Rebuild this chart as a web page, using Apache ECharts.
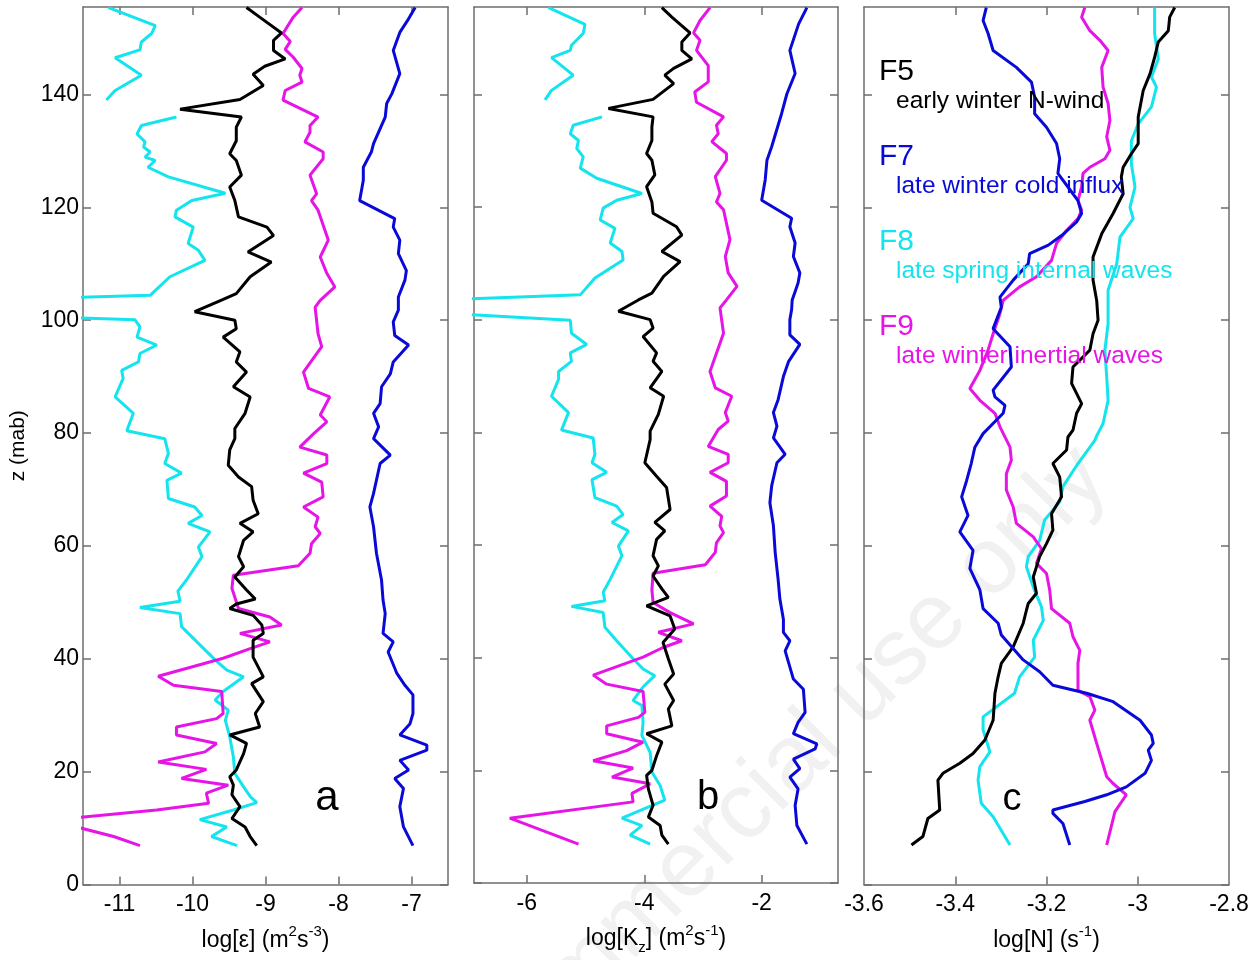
<!DOCTYPE html>
<html><head><meta charset="utf-8">
<script src="https://cdn.jsdelivr.net/npm/echarts@6/dist/echarts.min.js"></script>
<style>html,body{margin:0;padding:0;background:#fff}#c{width:1252px;height:960px}</style>
</head><body><div id="c"></div><script>
// ---------- tick values ----------
const zTicks = [0, 20, 40, 60, 80, 100, 120, 140];
const epsTicks = [-11, -10, -9, -8, -7];
const kzTicks = [-6, -4, -2];
const nTickMarks = [-3.4, -3.2, -3];
const nTickLabels = [-3.6, -3.4, -3.2, -3, -2.8];

// ---------- data: [value, z(mab)] ----------
// panel a : log epsilon
const epsF5 = [[-9.26,155.4],[-9.08,153.7],[-8.78,150.9],[-8.89,149.6],[-8.89,147.8],[-8.73,146.3],[-9.01,145.0],[-9.17,143.6],[-9.03,141.6],[-9.35,139.1],[-10.17,137.4],[-9.33,136.0],[-9.40,134.2],[-9.40,131.8],[-9.49,129.5],[-9.40,128.3],[-9.33,125.7],[-9.49,123.6],[-9.42,121.2],[-9.37,118.3],[-8.98,116.5],[-8.89,115.0],[-9.24,112.1],[-8.92,110.3],[-9.21,107.7],[-9.40,104.7],[-9.65,103.3],[-9.97,101.5],[-9.42,100.0],[-9.40,98.5],[-9.58,97.0],[-9.35,94.4],[-9.40,92.6],[-9.26,90.8],[-9.44,88.2],[-9.21,86.4],[-9.28,83.5],[-9.42,80.8],[-9.42,79.0],[-9.49,77.0],[-9.51,74.3],[-9.37,72.2],[-9.19,70.5],[-9.17,68.1],[-9.10,65.7],[-9.35,64.0],[-9.17,62.5],[-9.30,61.0],[-9.37,58.1],[-9.30,56.3],[-9.42,54.5],[-9.26,52.2],[-9.14,50.6],[-9.40,49.7],[-9.49,48.9],[-9.17,47.7],[-9.05,46.0],[-9.03,44.5],[-9.17,43.3],[-9.17,40.3],[-9.03,36.8],[-9.19,35.6],[-9.03,32.4],[-9.14,30.3],[-9.08,27.9],[-9.49,26.5],[-9.26,25.0],[-9.30,23.2],[-9.40,20.3],[-9.49,19.1],[-9.44,17.6],[-9.46,15.9],[-9.35,13.8],[-9.46,11.7],[-9.28,10.2],[-9.21,8.5],[-9.12,6.9]];
const epsF7 = [[-6.95,155.4],[-7.04,153.4],[-7.16,151.0],[-7.25,147.8],[-7.16,143.7],[-7.27,140.1],[-7.34,138.4],[-7.36,136.0],[-7.52,131.3],[-7.55,129.8],[-7.66,127.1],[-7.66,124.8],[-7.71,121.2],[-7.23,118.0],[-7.25,116.5],[-7.16,114.2],[-7.18,111.8],[-7.07,108.8],[-7.09,107.1],[-7.18,104.1],[-7.18,101.8],[-7.25,99.7],[-7.23,97.3],[-7.04,95.6],[-7.25,92.6],[-7.29,90.5],[-7.41,88.2],[-7.43,85.2],[-7.52,83.5],[-7.45,81.1],[-7.52,79.0],[-7.29,76.1],[-7.43,74.6],[-7.52,69.3],[-7.57,66.9],[-7.52,63.4],[-7.48,58.7],[-7.41,53.9],[-7.39,50.4],[-7.36,48.0],[-7.39,44.5],[-7.25,43.0],[-7.32,41.2],[-7.20,37.4],[-7.09,35.3],[-6.98,33.6],[-6.98,30.3],[-7.02,28.5],[-7.16,26.5],[-6.79,24.7],[-6.79,23.8],[-7.16,22.0],[-7.04,20.3],[-7.23,18.8],[-7.11,17.0],[-7.16,13.8],[-7.11,10.2],[-6.98,6.9]];
const epsF8 = [[-11.15,155.4],[-10.51,152.2],[-10.56,150.8],[-10.70,149.3],[-10.72,147.9],[-11.06,146.5],[-10.70,143.4],[-11.06,140.7],[-11.18,139.0],['-','-'],[-10.22,136.0],[-10.70,134.5],[-10.76,133.0],[-10.65,131.6],[-10.67,130.7],[-10.58,129.8],[-10.65,128.9],[-10.51,128.3],[-10.61,127.1],[-10.33,125.4],[-9.55,122.5],[-10.01,121.2],[-10.22,119.5],[-10.24,118.3],[-9.99,116.5],[-10.06,113.6],[-9.92,112.4],[-9.83,110.6],[-10.31,107.7],[-10.58,104.4],[-13,103.5],[-13,101.0],[-10.79,100.1],[-10.72,98.8],[-10.76,97.0],[-10.49,95.6],[-10.72,94.1],[-10.74,92.6],[-10.97,91.1],[-10.95,89.7],[-11.06,86.4],[-10.81,83.5],[-10.90,80.4],[-10.38,79.0],[-10.33,76.4],[-10.38,74.6],[-10.15,72.9],[-10.35,71.6],[-10.33,68.4],[-9.97,66.9],[-9.87,65.4],[-10.06,64.0],[-9.76,62.5],[-9.92,59.8],[-9.87,58.1],[-10.08,54.0],[-10.20,52.0],[-10.17,50.2],[-10.72,49.1],[-10.17,48.0],[-10.15,45.7],[-9.94,43.0],[-9.69,39.8],[-9.53,38.0],[-9.30,36.8],[-9.58,34.2],[-9.69,32.7],[-9.51,30.9],[-9.55,29.1],[-9.49,26.2],[-9.44,22.6],[-9.42,19.7],[-9.30,17.3],[-9.21,15.6],[-9.12,14.5],[-9.44,13.2],[-9.90,11.5],[-9.53,10.2],[-9.74,8.5],[-9.39,6.9]];
const epsF9 = [[-8.50,155.4],[-8.62,153.7],[-8.76,150.8],[-8.66,149.4],[-8.73,148.0],[-8.62,146.6],[-8.50,144.6],[-8.53,143.4],[-8.50,142.2],[-8.73,140.7],[-8.76,139.0],[-8.28,136.0],[-8.39,134.5],[-8.39,133.3],[-8.46,131.6],[-8.21,129.8],[-8.21,128.6],[-8.39,125.7],[-8.30,122.4],[-8.37,121.2],[-8.28,119.5],[-8.14,114.2],[-8.25,111.2],[-8.16,108.3],[-8.05,105.9],[-8.25,103.5],[-8.32,102.3],[-8.28,97.6],[-8.23,95.3],[-8.48,90.8],[-8.41,87.9],[-8.12,86.4],[-8.25,83.2],[-8.16,82.0],[-8.34,79.9],[-8.53,77.5],[-8.16,76.1],[-8.16,74.6],[-8.48,72.9],[-8.23,71.3],[-8.21,68.7],[-8.48,66.9],[-8.28,65.1],[-8.32,63.4],[-8.25,62.2],[-8.37,60.4],[-8.39,58.7],[-8.55,56.5],[-9.44,54.8],[-9.46,52.5],[-9.37,48.9],[-8.94,47.4],[-8.78,46.0],[-9.35,44.5],[-8.94,43.0],[-9.21,41.8],[-9.58,40.1],[-10.47,36.9],[-10.26,35.3],[-9.60,34.2],[-9.58,30.3],[-9.67,29.4],[-10.22,27.9],[-10.22,26.5],[-9.67,25.0],[-9.83,23.5],[-10.47,21.7],[-9.81,20.4],[-10.15,18.8],[-9.51,17.6],[-9.81,16.2],[-9.78,14.4],[-10.49,13.2],[-11.95,11.4],[-11.08,8.5],[-10.72,6.9]];

// panel b : log Kz
const kzF5 = [[-3.70,155.4],[-3.53,153.7],[-3.22,150.9],[-3.36,149.3],[-3.36,147.8],[-3.19,146.3],[-3.50,144.6],[-3.65,143.4],[-3.50,141.9],[-3.85,139.1],[-4.61,137.5],[-3.85,136.0],[-3.87,134.2],[-3.87,131.8],[-3.96,129.5],[-3.87,128.3],[-3.82,125.7],[-3.96,123.6],[-3.87,120.9],[-3.85,118.9],[-3.45,116.5],[-3.36,115.0],[-3.70,112.1],[-3.39,110.3],[-3.67,107.7],[-3.87,104.7],[-4.10,103.5],[-4.44,101.5],[-3.90,100.0],[-3.85,98.5],[-4.02,97.0],[-3.79,94.1],[-3.85,92.6],[-3.70,90.8],[-3.90,87.9],[-3.67,86.4],[-3.76,83.2],[-3.90,80.2],[-3.90,78.7],[-3.99,74.6],[-3.79,72.2],[-3.62,70.2],[-3.56,66.3],[-3.82,64.0],[-3.65,62.5],[-3.79,61.0],[-3.85,58.1],[-3.76,56.3],[-3.85,54.5],[-3.70,52.2],[-3.59,50.7],[-3.96,49.2],[-3.56,47.4],[-3.48,45.1],[-3.68,42.7],[-3.59,39.8],[-3.50,37.1],[-3.65,35.3],[-3.50,32.4],[-3.59,30.9],[-3.53,27.9],[-3.96,26.5],[-3.70,25.0],[-3.79,22.6],[-3.87,20.0],[-3.96,19.1],[-3.93,16.7],[-3.85,13.8],[-3.93,11.7],[-3.73,10.2],[-3.70,8.5],[-3.59,6.9]];
const kzF7 = [[-1.23,155.4],[-1.37,152.5],[-1.52,147.8],[-1.43,143.7],[-1.57,140.1],[-1.66,136.6],[-1.83,130.7],[-1.91,128.3],[-1.94,124.8],[-2.00,121.2],[-1.49,118.0],[-1.52,116.5],[-1.43,113.6],[-1.46,111.2],[-1.35,108.3],[-1.38,106.5],[-1.48,103.5],[-1.49,101.8],[-1.52,100.0],[-1.52,97.3],[-1.35,95.6],[-1.54,92.6],[-1.63,89.9],[-1.72,85.8],[-1.80,83.5],[-1.74,81.1],[-1.80,79.0],[-1.60,76.1],[-1.74,74.6],[-1.83,70.5],[-1.86,67.5],[-1.80,63.4],[-1.77,58.7],[-1.72,53.9],[-1.69,50.4],[-1.63,46.8],[-1.63,44.5],[-1.52,43.0],[-1.60,41.2],[-1.46,36.2],[-1.29,34.4],[-1.26,30.3],[-1.38,28.5],[-1.46,26.5],[-1.06,24.7],[-1.09,23.8],[-1.46,22.0],[-1.35,20.3],[-1.52,18.8],[-1.38,16.7],[-1.43,13.8],[-1.40,10.2],[-1.23,6.9]];
const kzF8 = [[-5.63,155.4],[-5.01,152.4],[-5.04,150.8],[-5.24,148.7],[-5.26,147.8],[-5.58,146.5],[-5.21,143.4],[-5.58,140.7],[-5.69,139.0],['-','-'],[-4.72,136.0],[-5.21,134.5],[-5.26,133.0],[-5.12,131.8],[-5.15,130.4],[-5.04,128.9],[-5.09,126.9],[-4.81,125.1],[-4.04,122.4],[-4.47,121.2],[-4.70,119.8],[-4.75,117.7],[-4.50,116.2],[-4.58,113.6],[-4.38,112.1],[-4.36,110.6],[-4.84,107.4],[-5.09,104.4],[-8,103.3],[-8,101.5],[-5.26,99.9],[-5.24,97.6],[-4.98,95.6],[-5.26,94.1],[-5.24,92.6],[-5.46,90.8],[-5.46,89.4],[-5.58,86.4],[-5.29,83.5],[-5.41,80.4],[-4.87,79.0],[-4.84,76.1],[-4.89,74.6],[-4.64,72.9],[-4.89,71.6],[-4.84,68.4],[-4.47,66.9],[-4.36,65.4],[-4.55,64.0],[-4.27,62.5],[-4.44,59.8],[-4.38,58.1],[-4.58,53.9],[-4.70,51.6],[-4.67,50.1],[-5.24,49.1],[-4.70,48.0],[-4.67,45.4],[-4.47,43.0],[-4.19,39.8],[-4.02,38.0],[-3.82,36.8],[-4.02,34.8],[-4.19,32.4],[-4.04,31.5],[-4.02,28.5],[-4.04,26.2],[-3.90,23.2],[-3.87,19.7],[-3.73,17.3],[-3.65,14.7],[-4.38,11.5],[-4.04,10.2],[-4.24,8.5],[-3.90,6.9]];
const kzF9 = [[-2.88,155.4],[-3.05,153.1],[-3.16,150.9],[-3.05,149.6],[-3.11,147.8],[-2.91,145.1],[-2.91,142.2],[-3.14,140.4],[-3.11,138.6],[-2.65,136.0],[-2.77,134.5],[-2.74,133.0],[-2.85,131.6],[-2.60,129.5],[-2.60,128.3],[-2.79,125.4],[-2.71,122.4],[-2.77,120.9],[-2.65,119.5],[-2.54,114.2],[-2.62,111.2],[-2.57,108.3],[-2.42,105.9],[-2.60,103.5],[-2.71,102.1],[-2.65,97.6],[-2.88,90.8],[-2.79,87.9],[-2.51,86.4],[-2.62,83.5],[-2.57,82.0],[-2.74,80.5],[-2.91,77.5],[-2.57,76.1],[-2.57,74.6],[-2.88,72.9],[-2.60,71.3],[-2.60,68.7],[-2.88,66.9],[-2.68,65.1],[-2.71,63.4],[-2.65,62.2],[-2.77,60.4],[-2.79,58.7],[-2.96,56.5],[-3.85,55.0],[-3.87,52.0],[-3.85,49.8],[-3.56,48.0],[-3.16,46.0],[-3.76,44.5],[-3.36,43.0],[-3.68,41.8],[-4.02,40.1],[-4.87,36.9],[-4.64,35.3],[-4.02,34.0],[-3.99,30.3],[-4.10,29.4],[-4.64,27.9],[-4.64,26.5],[-4.02,25.0],[-4.30,23.5],[-4.87,21.7],[-4.19,20.4],[-4.55,18.8],[-3.90,17.6],[-4.21,15.9],[-4.19,14.4],[-6.29,11.5],[-5.12,6.9]];

// panel c : log N
const nF5 = [[-2.919,155.4],[-2.930,153.7],[-2.933,151.3],[-2.955,149.3],[-2.963,146.6],[-2.973,143.7],[-2.988,140.7],[-2.999,136.0],[-2.999,131.3],[-3.014,129.5],[-3.032,127.1],[-3.036,125.4],[-3.032,122.4],[-3.054,118.9],[-3.079,115.3],[-3.098,111.2],[-3.098,107.1],[-3.090,103.5],[-3.087,100.0],[-3.098,97.6],[-3.105,94.7],[-3.142,91.7],[-3.145,88.8],[-3.123,85.2],[-3.134,83.5],[-3.142,80.5],[-3.153,79.3],[-3.156,77.0],[-3.186,74.6],[-3.171,72.2],[-3.167,68.7],[-3.189,65.7],[-3.186,62.8],[-3.200,60.4],[-3.215,58.1],[-3.229,54.5],[-3.222,51.6],[-3.240,49.8],[-3.244,48.6],[-3.251,46.3],[-3.273,42.1],[-3.299,39.2],[-3.306,36.8],[-3.313,33.9],[-3.317,29.1],[-3.335,25.6],[-3.361,23.2],[-3.390,21.5],[-3.427,19.7],[-3.438,18.5],[-3.434,13.2],[-3.460,11.7],[-3.471,8.5],[-3.496,7.0]];
const nF7 = [[-3.332,155.4],[-3.339,153.1],[-3.328,150.8],[-3.317,147.8],[-3.266,144.8],[-3.233,142.2],[-3.226,139.5],[-3.226,136.6],[-3.200,134.2],[-3.178,131.3],[-3.171,128.6],[-3.175,126.0],[-3.153,123.6],[-3.131,121.2],[-3.123,118.9],[-3.134,117.4],[-3.167,115.0],[-3.196,113.3],[-3.237,111.8],[-3.240,110.0],[-3.273,107.1],[-3.302,104.1],[-3.299,102.3],[-3.317,98.5],[-3.280,95.3],[-3.277,91.7],[-3.317,87.6],[-3.313,86.4],[-3.291,84.9],[-3.295,83.5],[-3.339,79.9],[-3.357,77.5],[-3.365,74.6],[-3.375,71.6],[-3.386,68.7],[-3.372,65.4],[-3.390,62.5],[-3.361,59.2],[-3.368,56.0],[-3.346,52.2],[-3.339,48.9],[-3.306,46.3],[-3.299,44.2],[-3.251,39.8],[-3.215,37.7],[-3.186,35.3],[-3.112,33.9],[-3.054,32.4],[-2.995,29.1],[-2.970,26.5],[-2.966,25.0],[-2.977,23.8],[-2.970,22.0],[-2.984,19.7],[-3.025,17.3],[-3.068,15.9],[-3.116,14.7],[-3.186,13.2],[-3.186,12.6],[-3.164,10.8],[-3.149,7.0]];
const nF8 = [[-2.963,155.4],[-2.963,150.8],[-2.955,146.3],[-2.970,143.1],[-2.959,141.3],[-2.970,137.8],[-2.999,134.8],[-3.014,131.8],[-3.014,127.7],[-3.006,123.6],[-3.017,120.0],[-3.010,118.0],[-3.039,114.7],[-3.046,110.0],[-3.065,105.3],[-3.065,99.4],[-3.072,94.7],[-3.068,89.9],[-3.065,85.8],[-3.076,81.7],[-3.090,79.5],[-3.094,78.7],[-3.131,74.6],[-3.164,70.5],[-3.171,67.8],[-3.204,64.6],[-3.215,61.0],[-3.240,58.1],[-3.244,56.3],[-3.229,52.7],[-3.211,49.2],[-3.207,46.8],[-3.229,43.3],[-3.226,40.3],[-3.259,36.8],[-3.270,33.9],[-3.339,29.7],[-3.339,27.4],[-3.324,23.5],[-3.346,20.9],[-3.350,18.5],[-3.343,14.4],[-3.317,12.0],[-3.280,7.0]];
const nF9 = [[-3.116,155.4],[-3.123,153.7],[-3.105,151.3],[-3.083,149.6],[-3.065,147.8],[-3.079,144.8],[-3.076,141.3],[-3.065,138.4],[-3.061,135.4],[-3.068,132.5],[-3.061,130.1],[-3.072,128.6],[-3.105,127.1],[-3.120,126.0],[-3.123,123.6],[-3.131,121.2],[-3.123,119.5],[-3.131,118.0],[-3.156,115.9],[-3.178,113.6],[-3.189,110.6],[-3.222,107.7],[-3.259,105.9],[-3.295,103.5],[-3.302,101.2],[-3.317,97.6],[-3.328,94.7],[-3.346,91.1],[-3.368,87.9],[-3.346,85.8],[-3.313,83.5],[-3.302,81.1],[-3.280,77.5],[-3.277,75.2],[-3.288,72.8],[-3.288,69.9],[-3.273,66.9],[-3.266,64.0],[-3.229,61.6],[-3.211,59.5],[-3.222,56.9],[-3.200,55.1],[-3.193,52.2],[-3.189,48.9],[-3.149,46.3],[-3.142,43.9],[-3.127,41.5],[-3.131,39.2],[-3.131,34.4],[-3.105,33.3],[-3.094,30.9],[-3.105,29.1],[-3.090,25.0],[-3.068,19.1],[-3.054,17.9],[-3.025,15.9],[-3.050,12.9],[-3.068,7.0]];

const legendItems = [
  {id: 'F5', desc: 'early winter N-wind'},
  {id: 'F7', desc: 'late winter cold influx'},
  {id: 'F8', desc: 'late spring internal waves'},
  {id: 'F9', desc: 'late winter inertial waves'}
];
const panelLetters = ['a', 'b', 'c'];

// ---------- styling ----------
const FONT = "'Liberation Sans', Arial, Helvetica, sans-serif";
const NARROW = "'Liberation Sans Narrow', 'Arial Narrow', 'Liberation Sans', sans-serif";
const AX = '#6e6e6e';
const COL = {F5: '#000000', F7: '#0a0ad8', F8: '#14e4ee', F9: '#e614e6'};
const Z_MAX = 155.5;
const TICK_FS = 23;

const grids = [
  {left: 83, top: 7, width: 365, height: 877.5},
  {left: 474, top: 7, width: 364, height: 877.5},
  {left: 864, top: 7, width: 365, height: 877.5}
];

const supRich = {
  n: {fontSize: 23, fontFamily: FONT, color: '#000', lineHeight: 32},
  s: {fontSize: 15, fontFamily: FONT, color: '#000', lineHeight: 15, verticalAlign: 'top'},
  b: {fontSize: 15, fontFamily: FONT, color: '#000', lineHeight: 15, verticalAlign: 'bottom'}
};

function xPair(gi, min, max, tickVals, labelVals, name) {
  const base = {
    type: 'value', gridIndex: gi, min: min, max: max,
    splitLine: {show: false},
    axisLine: {show: true, onZero: false, lineStyle: {color: AX, width: 1.5}},
    axisTick: {show: true, inside: true, length: 8, customValues: tickVals, lineStyle: {color: AX, width: 1.5}}
  };
  const bottom = Object.assign({}, base, {
    position: 'bottom',
    axisLabel: {show: true, customValues: labelVals, margin: 9, fontSize: TICK_FS, color: '#000', fontFamily: FONT},
    name: name, nameLocation: 'middle', nameGap: 40,
    nameTextStyle: {fontSize: 23, fontFamily: FONT, color: '#000', rich: supRich}
  });
  const top = Object.assign({}, base, {position: 'top', axisLabel: {show: false}});
  return [bottom, top];
}
function yPair(gi, withLabels) {
  const base = {
    type: 'value', gridIndex: gi, min: 0, max: Z_MAX,
    splitLine: {show: false},
    axisLine: {show: true, onZero: false, lineStyle: {color: AX, width: 1.5}},
    axisTick: {show: true, inside: true, length: 8, customValues: zTicks, lineStyle: {color: AX, width: 1.5}}
  };
  const left = Object.assign({}, base, {
    position: 'left',
    axisLabel: withLabels ? {show: true, customValues: zTicks, margin: 4, fontSize: TICK_FS, color: '#000', fontFamily: FONT} : {show: false}
  });
  if (withLabels) {
    left.name = 'z (mab)';
    left.nameLocation = 'middle';
    left.nameGap = 54;
    left.nameRotate = 90;
    left.nameTextStyle = {fontSize: 21, fontFamily: NARROW, color: '#000'};
  }
  const right = Object.assign({}, base, {position: 'right', axisLabel: {show: false}});
  return [left, right];
}

const xAxes = [].concat(
  xPair(0, -11.5, -6.5, epsTicks, epsTicks, '{n|log[ε] (m}{s|2}{n|s}{s|-3}{n|)}'),
  xPair(1, -6.9, -0.7, kzTicks, kzTicks, '{n|log[K}{b|z}{n|] (m}{s|2}{n|s}{s|-1}{n|)}'),
  xPair(2, -3.6, -2.8, nTickMarks, nTickLabels, '{n|log[N] (s}{s|-1}{n|)}')
);
const yAxes = [].concat(yPair(0, true), yPair(1, false), yPair(2, false));

function line(panel, data, key) {
  return {
    type: 'line', xAxisIndex: panel * 2, yAxisIndex: panel * 2, data: data,
    showSymbol: false, symbol: 'none', clip: true, connectNulls: false,
    lineStyle: {color: COL[key], width: 3}, itemStyle: {color: COL[key]},
    silent: true, animation: false, z: 3
  };
}

const series = [
  line(0, epsF8, 'F8'), line(0, epsF9, 'F9'), line(0, epsF5, 'F5'), line(0, epsF7, 'F7'),
  line(1, kzF8, 'F8'), line(1, kzF9, 'F9'), line(1, kzF5, 'F5'), line(1, kzF7, 'F7'),
  line(2, nF8, 'F8'), line(2, nF9, 'F9'), line(2, nF5, 'F5'), line(2, nF7, 'F7')
];

// ---------- text annotations ----------
const graphics = [];
graphics.push({
  type: 'text', z: -10, silent: true,
  x: 718, y: 838, rotation: Math.PI / 4,
  style: {text: 'Non-commercial use only', font: "94px " + FONT, fill: '#f1f1f1', align: 'center', verticalAlign: 'middle'}
});
const letterPos = [[327, 798, 42], [708, 798, 40], [1012, 800, 38]];
panelLetters.forEach(function (t, i) {
  graphics.push({type: 'text', x: letterPos[i][0], y: letterPos[i][1], z: 10,
    style: {text: t, font: letterPos[i][2] + 'px ' + FONT, fill: '#000', align: 'center', verticalAlign: 'middle'}});
});
legendItems.forEach(function (it, i) {
  const y0 = 72 + i * 85;
  graphics.push({type: 'text', x: 879, y: y0, z: 10,
    style: {text: it.id, font: '30px ' + FONT, fill: COL[it.id], align: 'left', verticalAlign: 'middle'}});
  graphics.push({type: 'text', x: 896, y: y0 + 29, z: 10,
    style: {text: it.desc, font: '24.5px ' + FONT, fill: COL[it.id], align: 'left', verticalAlign: 'middle'}});
});

const chart = echarts.init(document.getElementById('c'), null, {renderer: 'canvas'});
chart.setOption({
  backgroundColor: '#ffffff',
  animation: false,
  grid: grids,
  xAxis: xAxes,
  yAxis: yAxes,
  series: series,
  graphic: graphics
});
</script></body></html>
